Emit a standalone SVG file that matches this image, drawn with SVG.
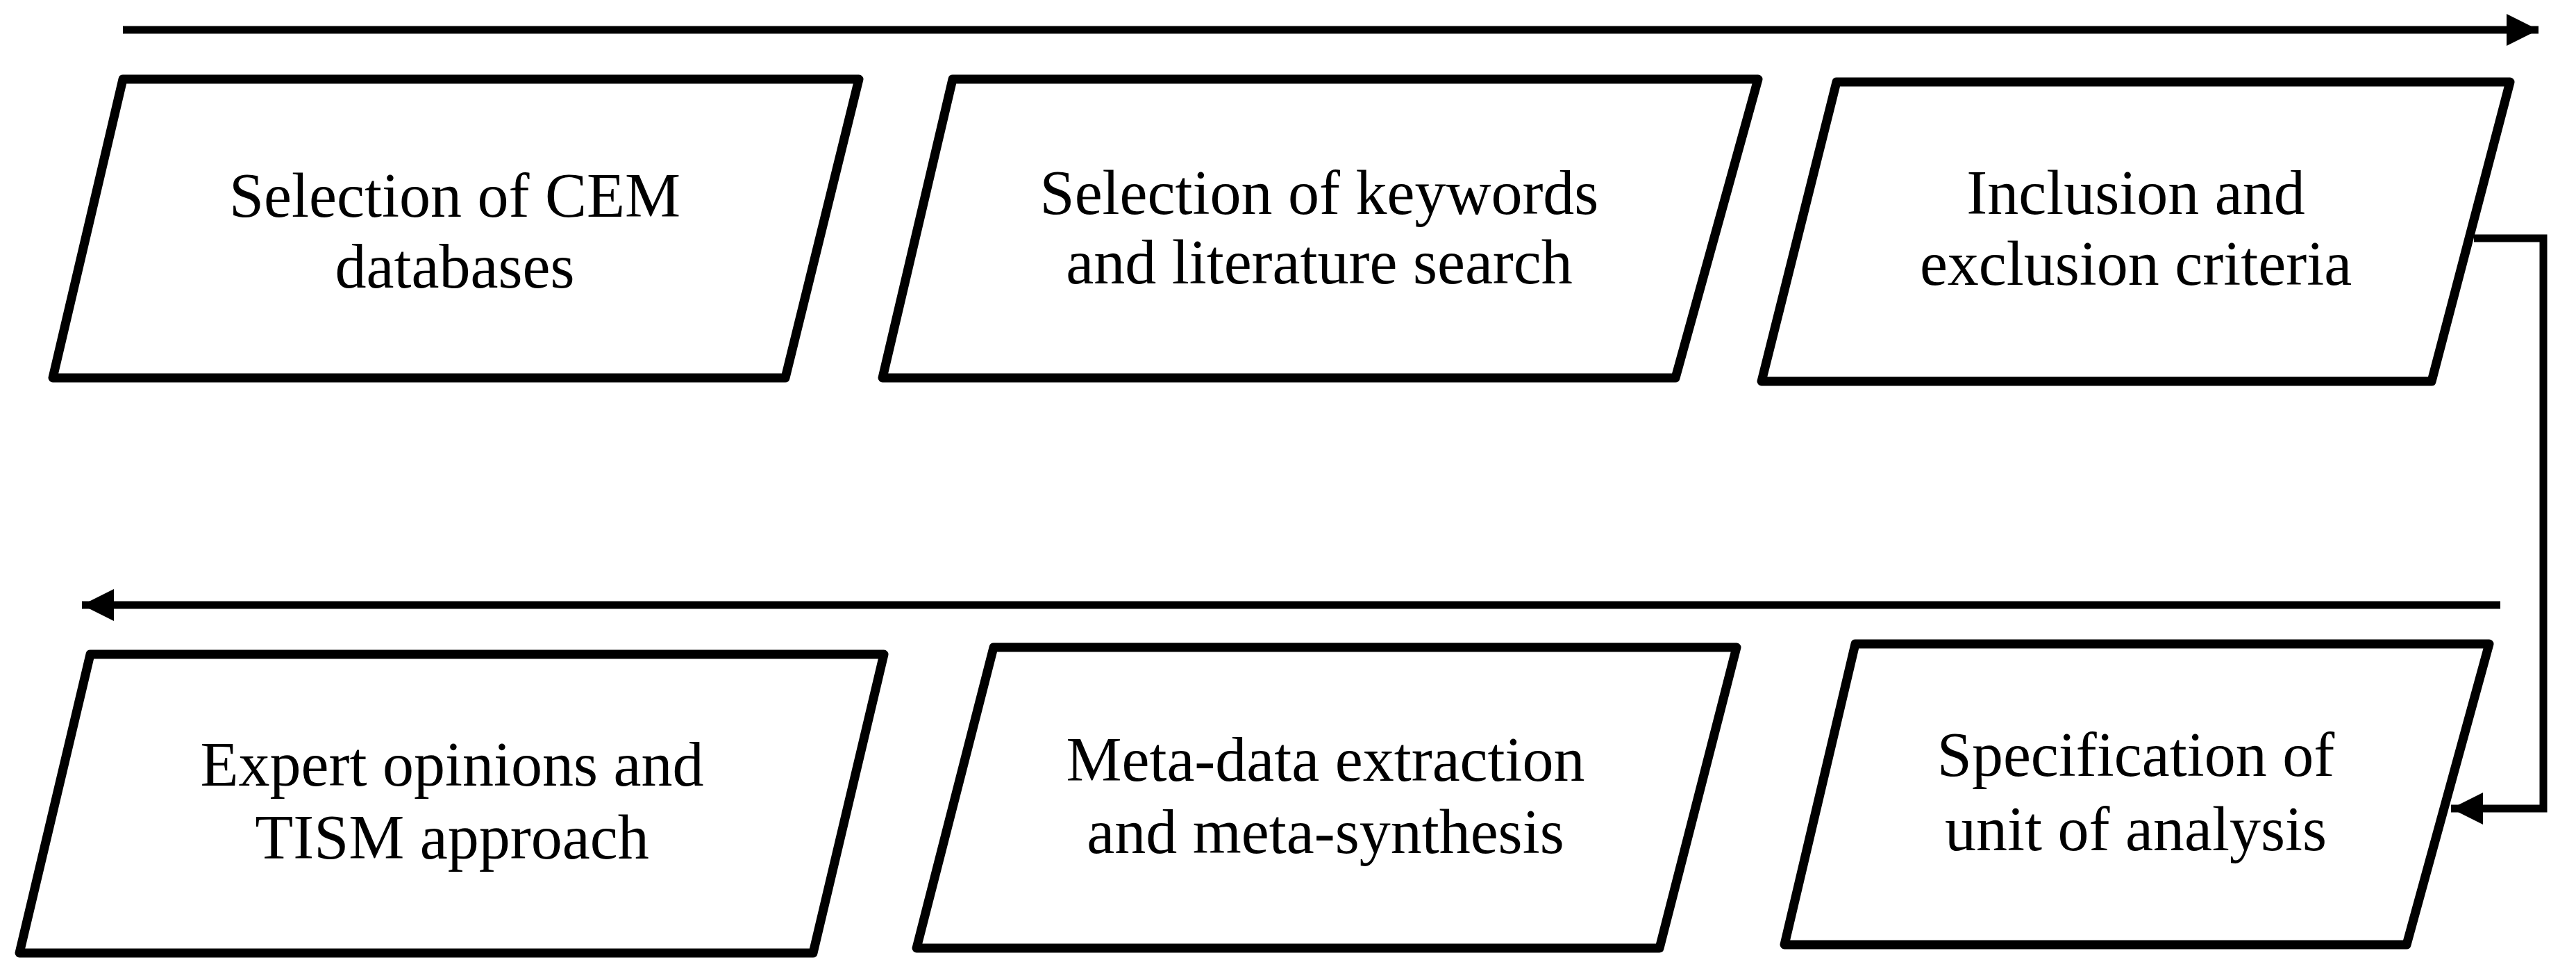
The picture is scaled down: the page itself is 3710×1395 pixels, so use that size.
<svg xmlns="http://www.w3.org/2000/svg" width="3710" height="1395" viewBox="0 0 3710 1395">
<style>
.box{fill:#fff;stroke:#000;stroke-width:13;stroke-linejoin:round}
.lbl{font-family:"Liberation Serif","Times New Roman",serif;font-size:90px;fill:#000;text-anchor:middle}
.con{fill:none;stroke:#000;stroke-width:11}
</style>
<defs>
<marker id="ah" markerUnits="userSpaceOnUse" markerWidth="50" markerHeight="46" refX="46" refY="23" orient="auto">
<path d="M0,0 L46,23 L0,46 Z" fill="#000"/>
</marker>
</defs>
<rect width="3710" height="1395" fill="#fff"/>
<g id="connectors">
<line class="con" x1="177" y1="43" x2="3656" y2="43" marker-end="url(#ah)"/>
<line class="con" x1="3601" y1="871" x2="118" y2="871" marker-end="url(#ah)"/>
<polyline class="con" points="3563,343 3663,343 3663,1164 3530,1164" marker-end="url(#ah)"/>
</g>
<g id="n1"><polygon class="box" points="177,114 1237,114 1131,544 76,544"/>
<text class="lbl" x="655" y="312">Selection of CEM</text><text class="lbl" x="655" y="414">databases</text></g>
<g id="n2"><polygon class="box" points="1372,114 2532,114 2413,544 1271,544"/>
<text class="lbl" x="1900" y="308">Selection of keywords</text><text class="lbl" x="1900" y="408">and literature search</text></g>
<g id="n3"><polygon class="box" points="2645,118 3615,118 3502,549 2537,549"/>
<text class="lbl" x="3076" y="308">Inclusion and</text><text class="lbl" x="3076" y="410">exclusion criteria</text></g>
<g id="n4"><polygon class="box" points="130,942 1273,942 1171,1372 28,1372"/>
<text class="lbl" x="651" y="1131">Expert opinions and</text><text class="lbl" x="651" y="1236">TISM approach</text></g>
<g id="n5"><polygon class="box" points="1431,932 2501,932 2390,1365 1320,1365"/>
<text class="lbl" x="1909" y="1124">Meta-data extraction</text><text class="lbl" x="1909" y="1228">and meta-synthesis</text></g>
<g id="n6"><polygon class="box" points="2672,927 3585,927 3466,1360 2570,1360"/>
<text class="lbl" x="3076" y="1117">Specification of</text><text class="lbl" x="3076" y="1224">unit of analysis</text></g>
</svg>
